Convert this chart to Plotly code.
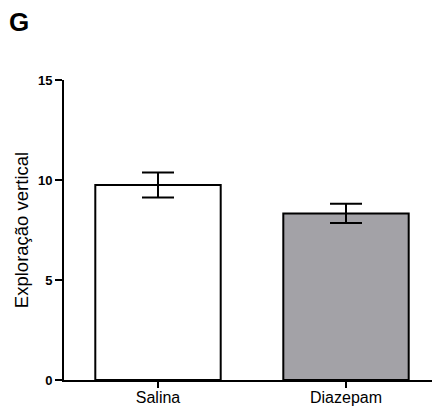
import plotly.graph_objects as go

categories = ["Salina", "Diazepam"]
means = [9.75, 8.33]
sems = [0.63, 0.48]
colors = ["#FFFFFF", "#A3A2A7"]
y_ticks = [0, 5, 10, 15]

# page has an 8px body margin; figure is sized to fit inside the window
W, H = 432, 403
L, T, B = 56, 72, 31
plot_w, plot_h = W - L, H - T - B

fig = go.Figure()
fig.add_trace(go.Bar(
    x=categories, y=means,
    marker=dict(color=colors, line=dict(color="black", width=2)),
    width=0.667,
    error_y=dict(type="data", array=sems, visible=True, color="black", thickness=2, width=16),
))

fig.update_layout(
    width=W, height=H,
    margin=dict(l=L, r=0, t=T, b=B, pad=0),
    paper_bgcolor="white", plot_bgcolor="white",
    showlegend=False,
    font=dict(family="Liberation Sans, Arial, sans-serif", color="black"),
    xaxis=dict(
        range=[-0.5, 1.5], showline=True, linecolor="black", linewidth=2,
        ticks="outside", ticklen=6, tickwidth=2, tickcolor="black",
        ticklabelstandoff=-4,
        tickfont=dict(size=16, color="black"), showgrid=False, zeroline=False,
    ),
    yaxis=dict(
        range=[0, 15], tickvals=y_ticks, showline=True, linecolor="black", linewidth=2,
        ticks="outside", ticklen=7, tickwidth=2, tickcolor="black",
        tickfont=dict(size=13, color="black", weight="bold"),
        showgrid=False, zeroline=False,
        title=dict(text="Exploração vertical", font=dict(size=18.5, color="black"), standoff=4),
    ),
    annotations=[dict(
        text="<b>G</b>", x=(11 - L) / plot_w, y=(T + plot_h - 14) / plot_h,
        xref="paper", yref="paper", xanchor="center", yanchor="middle",
        showarrow=False, font=dict(size=26, color="black"),
    )],
)

fig.write_html("out.html")
